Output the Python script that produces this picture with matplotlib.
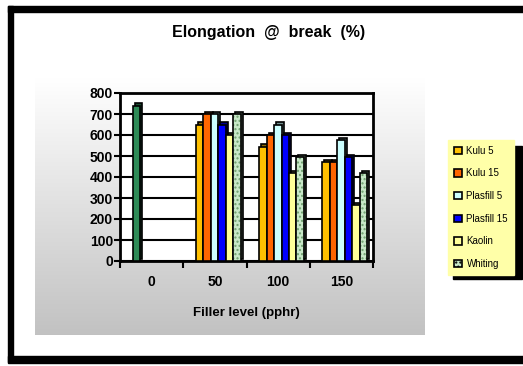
import numpy as np
import matplotlib
matplotlib.use("Agg")
import matplotlib.pyplot as plt
from matplotlib.patches import Rectangle
from matplotlib.colors import to_rgb

plt.rcParams['font.family'] = ['Liberation Sans', 'DejaVu Sans']

categories = ['0', '50', '100', '150']
series = ['Kulu 5', 'Kulu 15', 'Plasfill 5', 'Plasfill 15', 'Kaolin', 'Whiting']
kulu5 = [740, 650, 545, 470]
kulu15 = [0, 700, 600, 470]
plasfill5 = [0, 700, 650, 575]
plasfill15 = [0, 650, 600, 495]
kaolin = [0, 600, 420, 265]
whiting = [0, 700, 495, 420]
values = [kulu5, kulu15, plasfill5, plasfill15, kaolin, whiting]
colors = ['#ffc000', '#ff6600', '#ccffff', '#0000ff', '#ffff99', '#c8e8c8']
first_bar_color = '#2e8b57'   # the lone bar at 0 is drawn in dark green

W, H = 523, 366
fig = plt.figure(figsize=(W / 100, H / 100), dpi=100)
fig.patch.set_facecolor('white')

def fx(px):
    return px / W

def fy(py):
    return 1 - py / H

# grey gradient panel behind the chart
bg = fig.add_axes([fx(35), fy(335), fx(425) - fx(35), fy(78) - fy(335)], zorder=0)
grad = np.linspace(1.0, 0.76, 256).reshape(-1, 1)
bg.imshow(np.dstack([grad, grad, grad]), aspect='auto', extent=[0, 1, 0, 1])
bg.axis('off')

# outer frame
for (x0, y0, x1, y1) in [(8, 6, 523, 12), (8, 6, 13, 362), (8, 356, 523, 363)]:
    fig.patches.append(Rectangle((fx(x0), fy(y1)), fx(x1) - fx(x0), fy(y0) - fy(y1),
                                 transform=fig.transFigure, color='black', zorder=1))

ax = fig.add_axes([fx(120), fy(261), fx(373) - fx(120), fy(93) - fy(261)], zorder=2)
ax.set_facecolor('white')

n = len(series)
bw = 0.118
start = 0.2
dx, dy = 0.032, 10
handles = []
for i, (name, vals, c) in enumerate(zip(series, values, colors)):
    xs = np.arange(len(categories)) + start + i * bw + bw / 2
    cols = [c] * len(vals)
    if i == 0:
        cols[0] = first_bar_color
    dark = [tuple(0.55 * np.array(to_rgb(cc))) for cc in cols]
    shown = [v > 0 for v in vals]
    for x, v, cc, dc, s in zip(xs, vals, cols, dark, shown):
        if not s:
            continue
        ax.bar(x + dx, v, width=bw, bottom=dy, color=dc, edgecolor='black', linewidth=1.2, zorder=3 + i)
        if name == 'Whiting':
            ax.bar(x, v, width=bw, color=cc, edgecolor='#6f9f6f', hatch='....', linewidth=0, zorder=3 + i)
            ax.bar(x, v, width=bw, fill=False, edgecolor='black', linewidth=1.2, zorder=3 + i)
        else:
            ax.bar(x, v, width=bw, color=cc, edgecolor='black', linewidth=1.2, zorder=3 + i)
    h = Rectangle((0, 0), 1, 1, facecolor=c, edgecolor='black', linewidth=1.2,
                  hatch='....' if name == 'Whiting' else None)
    handles.append(h)

ax.set_xlim(0, 4)
ax.set_ylim(0, 800)
ax.set_yticks(range(0, 801, 100))
ax.set_xticks(range(0, 5))
ax.set_xticklabels([])
ax.set_xticks(np.arange(len(categories)) + 0.5, minor=True)
ax.set_xticklabels(categories, minor=True)
ax.tick_params(axis='x', which='minor', length=0, pad=10, labelsize=10)
ax.tick_params(axis='x', which='major', length=5, width=1.5, direction='out')
ax.tick_params(axis='y', length=4, width=1.5, direction='out', labelsize=10, pad=1)
for lab in ax.get_xticklabels(minor=True) + ax.get_yticklabels():
    lab.set_fontweight('bold')
ax.yaxis.grid(True, color='black', linewidth=1.5)
ax.set_axisbelow(True)
for s in ax.spines.values():
    s.set_linewidth(2)

fig.text(fx(269), fy(33), 'Elongation  @  break  (%)', ha='center', va='center',
         fontsize=11.5, fontweight='bold')
fig.text(fx(246), fy(313), 'Filler level (pphr)', ha='center', va='center',
         fontsize=9.5, fontweight='bold')

# legend with black drop shadow
fig.patches.append(Rectangle((fx(453), fy(279)), fx(522) - fx(453), fy(146) - fy(279),
                             transform=fig.transFigure, color='black', zorder=1))
leg = fig.legend(handles, series, loc='upper left',
                 bbox_to_anchor=(fx(448), fy(140)), bbox_transform=fig.transFigure,
                 fontsize=7, frameon=True, fancybox=False, facecolor='#ffffa8',
                 edgecolor='#ffffa8', framealpha=1, handlelength=0.8, handleheight=0.8,
                 handletextpad=0.5, labelspacing=1.3, borderpad=0.6, borderaxespad=0)
leg.set_zorder(5)

fig.savefig('out.png', dpi=100)
